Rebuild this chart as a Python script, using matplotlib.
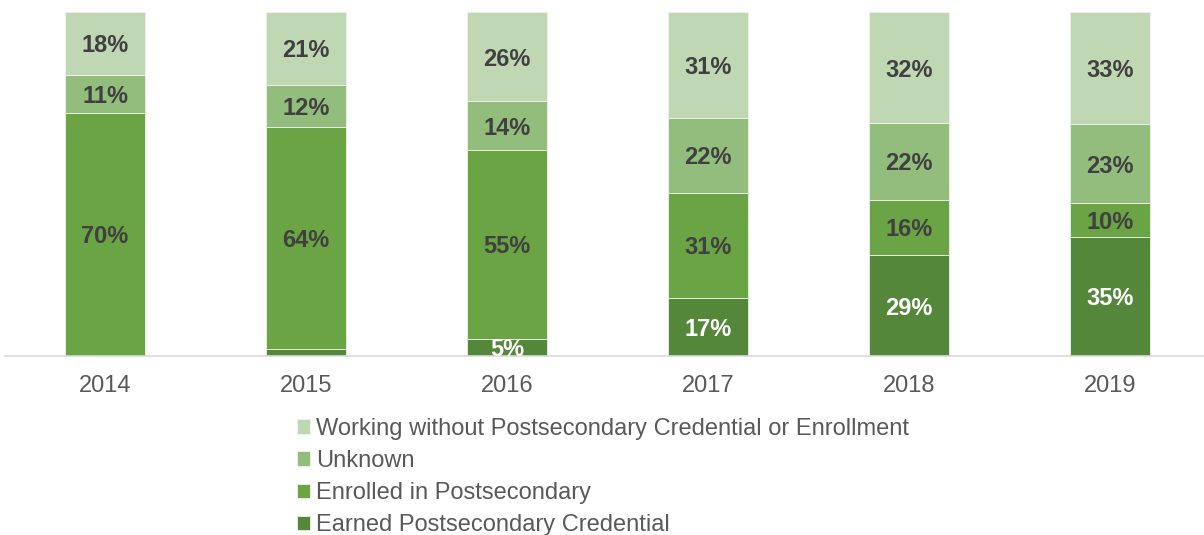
import numpy as np
import matplotlib.pyplot as plt

plt.rcParams['font.family'] = ['Liberation Sans', 'DejaVu Sans']

years = ['2014', '2015', '2016', '2017', '2018', '2019']
earned = [0, 2, 5, 17, 29, 35]
enrolled = [70, 64, 55, 31, 16, 10]
unknown = [11, 12, 14, 22, 22, 23]
working = [18, 21, 26, 31, 32, 33]

names = ['Earned Postsecondary Credential', 'Enrolled in Postsecondary',
         'Unknown', 'Working without Postsecondary Credential or Enrollment']
colors = ['#548739', '#6aa444', '#93bd7c', '#c0d7b4']
label_colors = ['white', '#404040', '#404040', '#404040']

series = np.array([earned, enrolled, unknown, working], dtype=float)
totals = series.sum(axis=0)
shares = series / totals * 100  # 100% stacked

fig = plt.figure(figsize=(12.04, 5.35), dpi=100)
ax = fig.add_axes([4.5 / 1204, 179 / 535, 1206 / 1204, 344 / 535])

x = np.arange(len(years))
bottom = np.zeros(len(years))
handles = []
for i, name in enumerate(names):
    b = ax.bar(x, shares[i], 0.4, bottom=bottom, color=colors[i],
               edgecolor='#eef3ea', linewidth=0.6, label=name)
    handles.append(b)
    for j in range(len(years)):
        v = series[i][j]
        if v >= 3:
            ax.text(x[j], bottom[j] + shares[i][j] / 2, '%d%%' % v,
                    ha='center', va='center_baseline', fontsize=17,
                    fontweight='bold', color=label_colors[i], clip_on=True)
    bottom += shares[i]

ax.set_xlim(-0.5, len(years) - 0.5)
ax.set_ylim(0, 100)
ax.set_xticks(x)
ax.set_xticklabels(years, fontsize=17, color='#595959')
ax.tick_params(axis='x', length=0, pad=14)
ax.set_yticks([])
for s in ['top', 'left', 'right']:
    ax.spines[s].set_visible(False)
ax.spines['bottom'].set_color('#d9d9d9')
ax.spines['bottom'].set_linewidth(1.2)

leg = fig.legend(handles[::-1], names[::-1], loc='upper left',
                 bbox_to_anchor=(285 / 1204, 1 - 406 / 535), frameon=False,
                 fontsize=17, handlelength=0.55, handleheight=0.55,
                 handletextpad=0.25, labelspacing=0.43, borderpad=0)
for t in leg.get_texts():
    t.set_color('#595959')

fig.savefig('out.png', dpi=100)
